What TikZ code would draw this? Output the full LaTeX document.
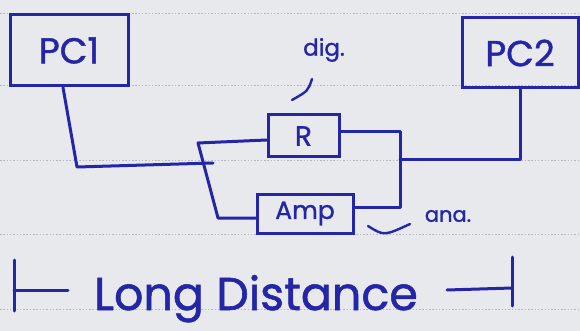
\documentclass[tikz,border=0pt]{standalone}
\usepackage{fontspec}
\setmainfont{Poppins}
\newfontfamily\hand[FakeBold=1.2]{Poppins}
\definecolor{ink}{RGB}{36,38,165}
\definecolor{paper}{RGB}{231,233,237}
\definecolor{ruling}{RGB}{182,184,192}
\tikzset{
  wire/.style={draw=ink, line width=3pt, line cap=round, line join=round},
  box/.style={draw=ink, line width=3pt, text=ink, inner sep=0pt, rectangle},
  note/.style={text=ink, inner sep=0pt},
}
\begin{document}
\begin{tikzpicture}[x=1pt,y=-1pt]
  % sheet of ruled paper
  \fill[paper] (0,0) rectangle (580,331);
  \useasboundingbox (0,0) rectangle (580,331);
  \foreach \yy in {13,85,160,234,309}
    \draw[ruling, line width=0.6pt, dash pattern=on 1.5pt off 1.8pt] (0,\yy) -- (580,\yy);

  % computers
  \node[box, minimum width=118, minimum height=71, font=\hand\fontsize{36}{40}\selectfont] (pc1) at (69,50.5) {PC1};
  \node[box, minimum width=116, minimum height=70, font=\hand\fontsize{36}{40}\selectfont] (pc2) at (520,53) {PC2};

  % repeater and amplifier in parallel
  \node[box, minimum width=71, minimum height=42, font=\hand\fontsize{28}{30}\selectfont] (rep) at (303.5,136) {R};
  \node[box, minimum width=96, minimum height=39, font=\hand\fontsize{25}{28}\selectfont] (amp) at (305,213.5) {Amp};

  % junction points of the parallel branches
  \coordinate (lt) at (198,143);
  \coordinate (lb) at (218,218);
  \coordinate (rt) at (400,132);
  \coordinate (rb) at (400,207);
  \coordinate (rm) at (400,160);

  % PC1 to the left junction
  \draw[wire] (pc1.south) ++(-6,0) -- (77,167) -- (213,163);
  % left branches
  \draw[wire] (rep.west |- lt) ++(0,-3) -- (lt) -- (lb) -- (amp.west |- lb);
  % right branches
  \draw[wire] (rep.east |- rt) -- (rt) -- (rb) -- (amp.east |- rb);
  % right junction to PC2
  \draw[wire] (rm) -- (pc2.south |- rm) -- (pc2.south);

  % signal labels
  \node[note, font=\hand\fontsize{23}{24}\selectfont] (dig) at (324,50) {dig.};
  \draw[wire, line width=2.4pt] (312,79) .. controls (308,91) .. (292,100);
  \node[note, font=\hand\fontsize{21}{22}\selectfont] (ana) at (448,216) {ana.};
  \draw[wire, line width=2.4pt] (368,226) .. controls (384,236) .. (410,224);

  % distance span
  \node[note, anchor=base, font=\hand\fontsize{46}{50}\selectfont] (dist) at (256,310) {Long Distance};
  \coordinate (la) at (14,260);
  \coordinate (lz) at (14,311);
  \coordinate (ra) at (512,257);
  \coordinate (rz) at (512,306);
  \draw[wire] (la) -- (lz);
  \draw[wire] (14,290) -- (68,290);
  \draw[wire] (ra) -- (rz);
  \draw[wire] (447,290) -- (512,288);
\end{tikzpicture}
\end{document}
